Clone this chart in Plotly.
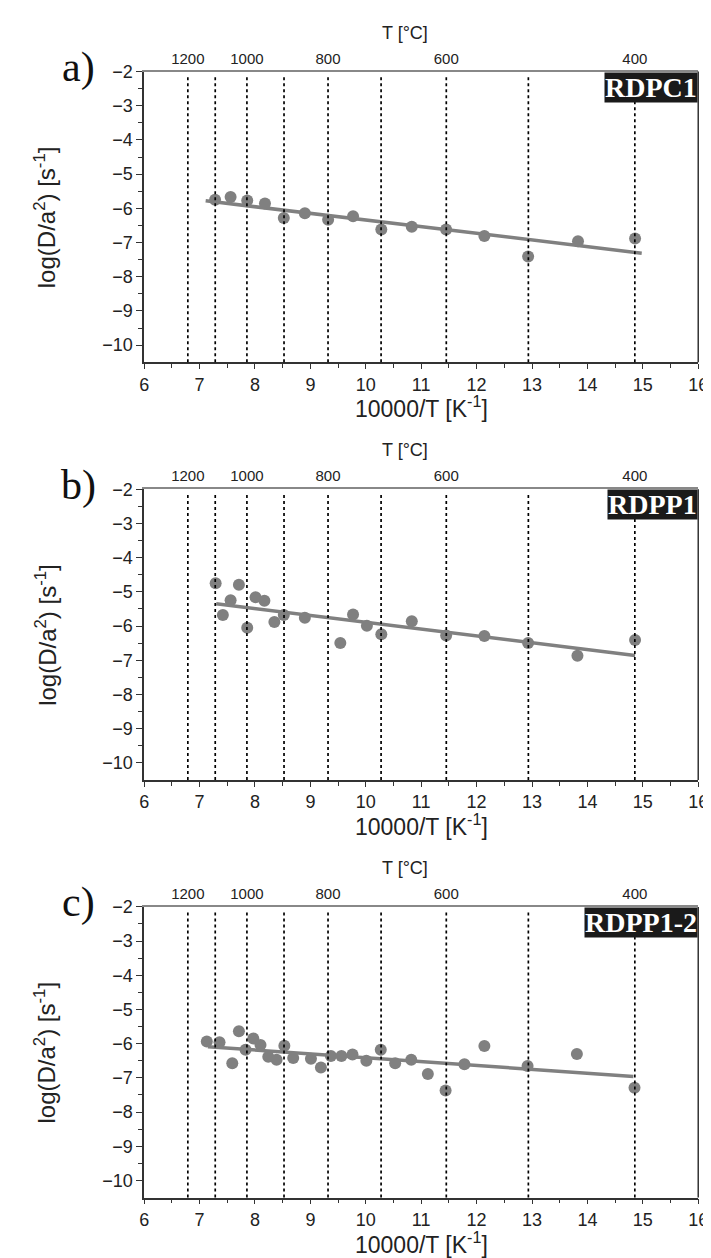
import plotly.graph_objects as go

# --- data ---
a_x = [7.28, 7.56, 7.86, 8.18, 8.52, 8.90, 9.32, 9.77, 10.28, 10.83, 11.45, 12.14, 12.93, 13.83, 14.86]
a_y = [-5.75, -5.67, -5.77, -5.86, -6.28, -6.14, -6.33, -6.23, -6.62, -6.54, -6.62, -6.81, -7.41, -6.96, -6.88]
a_fit_x = [7.11, 14.98]
a_fit_y = [-5.78, -7.31]

b_x = [7.29, 7.42, 7.56, 7.71, 7.86, 8.01, 8.17, 8.35, 8.52, 8.90, 9.54, 9.77, 10.02, 10.28,
       10.83, 11.45, 12.14, 12.93, 13.82, 14.86]
b_y = [-4.75, -5.68, -5.25, -4.79, -6.05, -5.16, -5.26, -5.88, -5.68, -5.76, -6.50, -5.66, -5.99, -6.24,
       -5.86, -6.28, -6.29, -6.50, -6.87, -6.41]
b_fit_x = [7.30, 14.86]
b_fit_y = [-5.35, -6.86]

c_x = [7.13, 7.36, 7.59, 7.71, 7.83, 7.97, 8.10, 8.24, 8.39, 8.53, 8.69, 9.01, 9.19, 9.37, 9.56,
       9.76, 10.01, 10.27, 10.53, 10.82, 11.12, 11.44, 11.78, 12.14, 12.92, 13.81, 14.85]
c_y = [-5.94, -5.96, -6.57, -5.64, -6.18, -5.85, -6.04, -6.38, -6.47, -6.06, -6.42, -6.44, -6.70, -6.36, -6.36,
       -6.32, -6.50, -6.18, -6.57, -6.47, -6.89, -7.37, -6.60, -6.07, -6.65, -6.30, -7.29]
c_fit_x = [7.15, 14.83]
c_fit_y = [-6.09, -6.96]

panel_letters = ["a)", "b)", "c)"]
sample_names = ["RDPC1", "RDPP1", "RDPP1-2"]

temp_labels = [1200, 1000, 800, 600, 400]          # labelled on the top axis
temp_lines = [1200, 1100, 1000, 900, 800, 700, 600, 500, 400]  # dotted guide lines


def inv_t(t_c):
    return 10000.0 / (t_c + 273.15)


W, H = 711, 1258
x_dom = [134 / W, 700 / W]
# pixel rows (top, bottom) of each plot area
rows_px = [(54, 347), (475, 768), (896, 1189)]

GRAY = "#808080"
AXIS = "#333333"
SANS = "Liberation Sans, Arial, sans-serif"
SERIF = "Liberation Serif, Times New Roman, serif"

fig = go.Figure()
panels = [(a_x, a_y, a_fit_x, a_fit_y), (b_x, b_y, b_fit_x, b_fit_y), (c_x, c_y, c_fit_x, c_fit_y)]

for i, (px, py, fx, fy) in enumerate(panels):
    n = i + 1
    xa = "x" if n == 1 else f"x{n}"
    ya = "y" if n == 1 else f"y{n}"
    fig.add_trace(go.Scatter(x=fx, y=fy, mode="lines", line=dict(color=GRAY, width=3.5),
                             xaxis=xa, yaxis=ya, showlegend=False))
    fig.add_trace(go.Scatter(x=px, y=py, mode="markers",
                             marker=dict(color=GRAY, size=12, line=dict(width=0)),
                             xaxis=xa, yaxis=ya, showlegend=False))
    # dummy trace on the top axis so it renders
    fig.add_trace(go.Scatter(x=[inv_t(t) for t in temp_labels], y=[None] * len(temp_labels),
                             xaxis=f"x{n + 3}", yaxis=ya, showlegend=False, hoverinfo="skip"))

    top, bot = rows_px[i]
    y_dom = [1 - bot / H, 1 - top / H]
    common_x = dict(range=[6, 16], domain=x_dom, showgrid=False, zeroline=False)
    fig.layout[f"xaxis{'' if n == 1 else n}"] = dict(
        common_x, anchor=ya, tickmode="array", tickvals=list(range(6, 17)),
        ticks="outside", ticklen=5, tickwidth=1.2, tickcolor=AXIS,
        showline=True, linecolor=AXIS, linewidth=1.5, mirror=False,
        tickfont=dict(family=SANS, size=18, color="#222"),
        minor=dict(tickvals=[v + 0.5 for v in range(6, 16)], ticks="outside", ticklen=4,
                   tickcolor=AXIS, tickwidth=1.2),
    )
    fig.layout[f"xaxis{n + 3}"] = dict(
        common_x, anchor=ya, overlaying=xa, side="top", tickmode="array",
        tickvals=[inv_t(t) for t in temp_labels], ticktext=[str(t) for t in temp_labels],
        ticks="", showline=True, linecolor="#888888", linewidth=1.5,
        tickfont=dict(family=SANS, size=15, color="#222"),
    )
    fig.layout[f"yaxis{'' if n == 1 else n}"] = dict(
        range=[-10.5, -2], domain=y_dom, anchor=xa, showgrid=False, zeroline=False,
        tickmode="array", tickvals=list(range(-10, -1)),
        ticks="outside", ticklen=6, tickwidth=1.2, tickcolor=AXIS,
        showline=True, linecolor=AXIS, linewidth=1.5,
        tickfont=dict(family=SANS, size=18, color="#222"),
        minor=dict(tickvals=[v + 0.5 for v in range(-10, -2)], ticks="outside", ticklen=4,
                   tickcolor=AXIS, tickwidth=1.2),
    )

    # right frame line
    fig.add_shape(type="line", xref=f"{xa} domain", yref=f"{ya} domain", x0=1, x1=1, y0=0, y1=1,
                  line=dict(color=AXIS, width=1.5), layer="above")
    # dotted temperature guide lines
    for t in temp_lines:
        fig.add_shape(type="line", xref=xa, yref=f"{ya} domain", x0=inv_t(t), x1=inv_t(t),
                      y0=0, y1=0.985, line=dict(color="black", width=1.7, dash="dot"), layer="above")

    # axis titles and labels
    fig.add_annotation(text="10000/T [K<sup>-1</sup>]", xref=f"{xa} domain", yref=f"{ya} domain",
                       x=0.5, y=0, yanchor="middle", yshift=-45, showarrow=False,
                       font=dict(family=SANS, size=23, color="#222"))
    fig.add_annotation(text="T [°C]", xref="paper", yref=f"{ya} domain",
                       x=400 / W, y=1, yanchor="middle", yshift=39, showarrow=False,
                       font=dict(family=SANS, size=18, color="#222"))
    fig.add_annotation(text="log(D/a<sup>2</sup>) [s<sup>-1</sup>]", xref="paper", yref=f"{ya} domain",
                       x=33 / W, y=0.5, textangle=-90, xanchor="center", yanchor="middle",
                       showarrow=False, font=dict(family=SANS, size=24, color="#222"))
    fig.add_annotation(text=panel_letters[i], xref="paper", yref=f"{ya} domain",
                       x=67 / W, y=1, xanchor="center", yanchor="middle", yshift=4, showarrow=False,
                       font=dict(family=SERIF, size=42, color="#111"))
    fig.add_annotation(text=f"<b>{sample_names[i]}</b>", xref=f"{xa} domain", yref=f"{ya} domain",
                       x=1, y=1, xanchor="right", yanchor="top", showarrow=False,
                       bgcolor="#1a1a1a", borderpad=0, height=29,
                       font=dict(family=SERIF, size=28, color="white"))

fig.update_layout(
    width=W, height=H,
    margin=dict(l=0, r=0, t=0, b=0),
    plot_bgcolor="white", paper_bgcolor="white",
    showlegend=False,
)

fig.write_html("out.html")
